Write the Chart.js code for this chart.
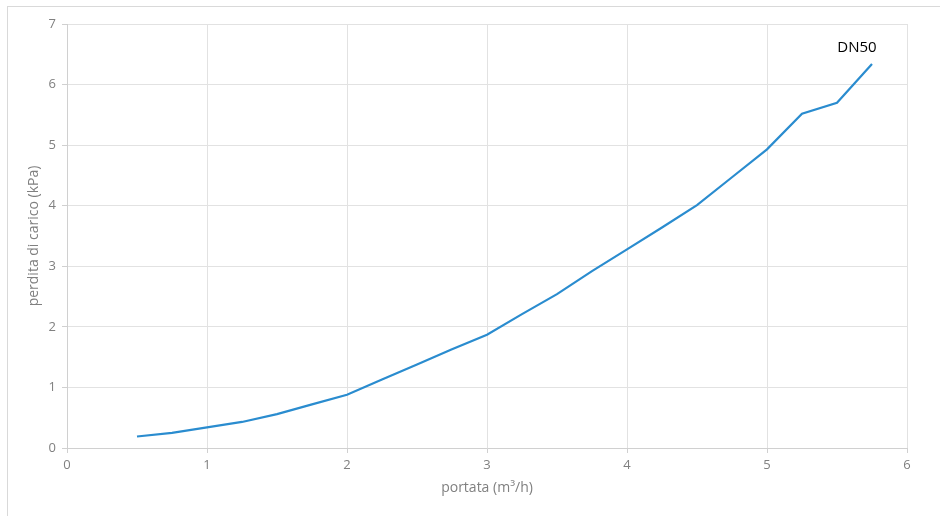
<!DOCTYPE html>
<html>
<head>
<meta charset="utf-8">
<script src="https://cdn.jsdelivr.net/npm/chart.js@4.4.1/dist/chart.umd.min.js"></script>
<style>
	html, body { margin: 0; padding: 0; background: #fff; }
	#wrap { width: 940px; height: 516px; }
</style>
</head>
<body>
<div id="wrap"><canvas id="perdita"></canvas></div>
<script>
// portata (m3/h) vs perdita di carico (kPa), serie DN50
var portata = [0.5, 0.75, 1, 1.25, 1.5, 1.75, 2, 2.25, 2.5, 2.75, 3, 3.25, 3.5, 3.75, 4, 4.25, 4.5, 4.75, 5, 5.25, 5.5, 5.75];
var perdita = [0.19, 0.25, 0.34, 0.43, 0.56, 0.72, 0.88, 1.13, 1.38, 1.63, 1.87, 2.21, 2.54, 2.92, 3.28, 3.64, 4.01, 4.47, 4.93, 5.52, 5.70, 6.34];
var serieLabel = 'DN50';
var xTicks = [0, 1, 2, 3, 4, 5, 6];
var yTicks = [0, 1, 2, 3, 4, 5, 6, 7];

var punti = [];
for (var i in portata) {
	punti.push({x: portata[i], y: perdita[i]});
}

var grigio = '#808080';
var font = "'Open Sans', 'Liberation Sans', sans-serif";

// cornice esterna + etichetta della serie sull'ultimo punto
var extras = {
	id: 'extras',
	beforeDraw: function(chart) {
		var c = chart.ctx;
		c.save();
		c.strokeStyle = '#d9d9d9';
		c.lineWidth = 1;
		c.strokeRect(7.5, 6.5, 960, 540);
		c.restore();
	},
	afterDatasetsDraw: function(chart) {
		var c = chart.ctx;
		var meta = chart.getDatasetMeta(0);
		var last = meta.data[meta.data.length - 1];
		c.save();
		c.fillStyle = '#000';
		c.font = '15px ' + font;
		c.textAlign = 'center';
		c.textBaseline = 'middle';
		c.fillText(serieLabel, last.x - 15, last.y - 16);
		c.restore();
	}
};

var ctx = document.getElementById('perdita');
var grafico = new Chart(ctx, {
	type: 'line',
	data: {
		datasets: [{
			label: serieLabel,
			data: punti,
			borderColor: '#2a8ccf',
			borderWidth: 2.2,
			pointRadius: 0,
			tension: 0,
			fill: false
		}]
	},
	options: {
		responsive: true,
		maintainAspectRatio: false,
		animation: false,
		layout: { padding: { left: 26, right: 33, top: 24, bottom: 20 } },
		plugins: {
			legend: { display: false },
			tooltip: { enabled: false }
		},
		scales: {
			x: {
				type: 'linear',
				min: 0,
				max: 6,
				afterBuildTicks: function(s) { s.ticks = xTicks.map(function(v) { return {value: v}; }); },
				afterFit: function(s) { s.height = 48; },
				grid: { color: '#e2e2e2', tickLength: 5, tickColor: '#d0d0d0' },
				border: { color: '#d0d0d0' },
				ticks: { color: grigio, font: { family: font, size: 13 }, padding: 4, maxRotation: 0 },
				title: { display: true, text: 'portata (m³/h)', color: grigio, font: { family: font, size: 14 }, padding: { top: 0, bottom: 0 } }
			},
			y: {
				min: 0,
				max: 7,
				afterBuildTicks: function(s) { s.ticks = yTicks.map(function(v) { return {value: v}; }); },
				afterFit: function(s) { s.width = 41; },
				grid: { color: '#e2e2e2', tickLength: 5, tickColor: '#d0d0d0' },
				border: { color: '#d0d0d0' },
				ticks: { color: grigio, font: { family: font, size: 13 }, padding: 6 },
				title: { display: true, text: 'perdita di carico (kPa)', color: grigio, font: { family: font, size: 14 }, padding: { top: 0, bottom: 0 } }
			}
		}
	},
	plugins: [extras]
});
</script>
</body>
</html>
